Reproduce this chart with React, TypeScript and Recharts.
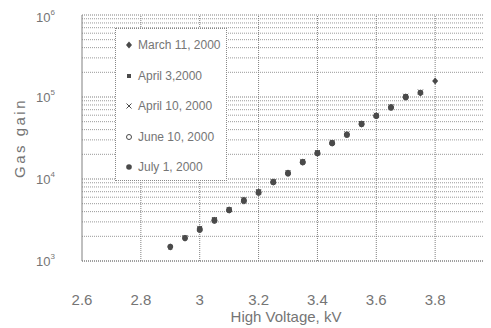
import { ScatterChart, Scatter, XAxis, YAxis, ReferenceLine } from 'recharts';

const voltages = [2.9, 2.95, 3.0, 3.05, 3.1, 3.15, 3.2, 3.25, 3.3, 3.35, 3.4, 3.45, 3.5, 3.55, 3.6, 3.65, 3.7, 3.75, 3.8];
const march11 = [1480, 1900, 2450, 3150, 4200, 5500, 6900, 9200, 11800, 16100, 20700, 27500, 35000, 47000, 59000, 75000, 100000, 112000, 157000];
const april3 = [1450, 1870, 2400, 3100, 4100, 5400, 6800, 9000, 11500, 15800, 20300, 27000, 34000, 46000, 58000, 73000, 97000];
const april10 = [1930, 2500, 3200, 4250, 5600, 7000, 9300, 12000, 16400, 21000, 28000, 35500, 47500, 60000, 76000, 102000, 115000];
const june10 = [2380, 3080, 4150, 5350, 6750, 9100, 11600, 15900, 20500, 27200, 34500, 46500, 58500, 74000, 99000];
const july1 = [1500, 1920, 2470, 3180, 4230, 5550, 7000, 9250, 11900, 16200, 20900, 27700, 35200, 47300, 59500, 75500, 101000, 113000];

const seriesNames = ['March 11, 2000', 'April 3,2000', 'April 10, 2000', 'June 10, 2000', 'July 1, 2000'];
const xTicks = [2.6, 2.8, 3.0, 3.2, 3.4, 3.6, 3.8, 4.0];
const yTicks = [1000, 10000, 100000, 1000000];
const minorY = [
  2000, 3000, 4000, 5000, 6000, 7000, 8000, 9000,
  20000, 30000, 40000, 50000, 60000, 70000, 80000, 90000,
  200000, 300000, 400000, 500000, 600000, 700000, 800000, 900000,
];

const toPoints = (vals: number[], start: number) =>
  vals.map((y, i) => ({ x: voltages[start + i], y }));

const INK = '#4a4a4a';
const TEXT = '#757575';

type Shape = 'diamond' | 'square' | 'x' | 'open' | 'dot';

function Marker({ cx, cy, kind }: { cx: number; cy: number; kind: Shape }) {
  if (kind === 'diamond') return <path d={`M${cx},${cy - 3.5}L${cx + 3},${cy}L${cx},${cy + 3.5}L${cx - 3},${cy}Z`} fill={INK} />;
  if (kind === 'square') return <rect x={cx - 2} y={cy - 2} width={4} height={4} fill={INK} />;
  if (kind === 'x')
    return <path d={`M${cx - 2.5},${cy - 2.5}L${cx + 2.5},${cy + 2.5}M${cx + 2.5},${cy - 2.5}L${cx - 2.5},${cy + 2.5}`} stroke={INK} strokeWidth={1} />;
  if (kind === 'open') return <circle cx={cx} cy={cy} r={2.5} fill="none" stroke={INK} strokeWidth={1} />;
  return <circle cx={cx} cy={cy} r={2.8} fill={INK} />;
}

const shapes: Shape[] = ['diamond', 'square', 'x', 'open', 'dot'];

function YTick({ x, y, payload }: any) {
  const exp = Math.round(Math.log10(payload.value));
  return (
    <text x={x - 19} y={y + 5} textAnchor="end" fill={TEXT} fontSize={13} fontFamily="Liberation Sans, Arial">
      10<tspan dy={-7} fontSize={8}>{exp}</tspan>
    </text>
  );
}

function XTick({ x, y, payload }: any) {
  if (payload.value > 3.9) return null;
  const label = Number.isInteger(payload.value) ? String(payload.value) : payload.value.toFixed(1);
  return (
    <text x={x} y={y + 36} textAnchor="middle" fill={TEXT} fontSize={15} fontFamily="Liberation Sans, Arial">
      {label}
    </text>
  );
}

export default function App() {
  const data = [
    toPoints(march11, 0),
    toPoints(april3, 0),
    toPoints(april10, 1),
    toPoints(june10, 2),
    toPoints(july1, 0),
  ];
  return (
    <div style={{ position: 'relative', width: 483, height: 320, overflow: 'hidden', fontFamily: 'Liberation Sans, Arial' }}>
      <ScatterChart width={490} height={320} margin={{ top: 7, right: 4, left: 0, bottom: 0 }}>
        {minorY.map((v) => (
          <ReferenceLine key={'m' + v} y={v} stroke="#9a9a9a" strokeDasharray="1 1" />
        ))}
        {yTicks.map((v) => (
          <ReferenceLine key={'M' + v} y={v} stroke="#808080" strokeDasharray="1 1" />
        ))}
        {xTicks.map((v) => (
          <ReferenceLine key={'v' + v} x={v} stroke="#808080" strokeDasharray="1 1" />
        ))}
        <XAxis
          type="number"
          dataKey="x"
          domain={[2.6, 4.0]}
          ticks={xTicks}
          allowDataOverflow
          height={67}
          tickLine={false}
          axisLine={{ stroke: '#808080', strokeDasharray: '1 1' }}
          tick={<XTick />}
          label={{ value: 'High Voltage, kV', position: 'insideBottom', offset: 6, fill: TEXT, fontSize: 15, dx: -2 }}
        />
        <YAxis
          type="number"
          dataKey="y"
          scale="log"
          domain={[1000, 1000000]}
          ticks={yTicks}
          allowDataOverflow
          width={74}
          tickLine={false}
          axisLine={{ stroke: '#808080', strokeDasharray: '1 1' }}
          tick={<YTick />}
          label={{ value: 'Gas gain', angle: -90, position: 'insideLeft', offset: 12, fill: TEXT, fontSize: 15, letterSpacing: 2.5, dy: 40 }}
        />
        {data.map((pts, i) => (
          <Scatter
            key={seriesNames[i]}
            name={seriesNames[i]}
            data={pts}
            isAnimationActive={false}
            shape={(p: any) => <Marker cx={p.cx} cy={p.cy} kind={shapes[i]} />}
          />
        ))}
      </ScatterChart>
      <div
        style={{
          position: 'absolute',
          left: 107,
          top: 20,
          width: 112,
          height: 153,
          background: '#fff',
          border: '1px dotted #888',
          boxSizing: 'border-box',
        }}
      >
        {seriesNames.map((n, i) => (
          <div
            key={n}
            style={{ position: 'absolute', left: 8, top: 9 + i * 30.5, height: 14, display: 'flex', alignItems: 'center', fontSize: 12, color: TEXT, whiteSpace: 'nowrap' }}
          >
            <svg width={10} height={10} style={{ marginRight: 4 }}>
              <Marker cx={5} cy={5} kind={shapes[i]} />
            </svg>
            {n}
          </div>
        ))}
      </div>
    </div>
  );
}
